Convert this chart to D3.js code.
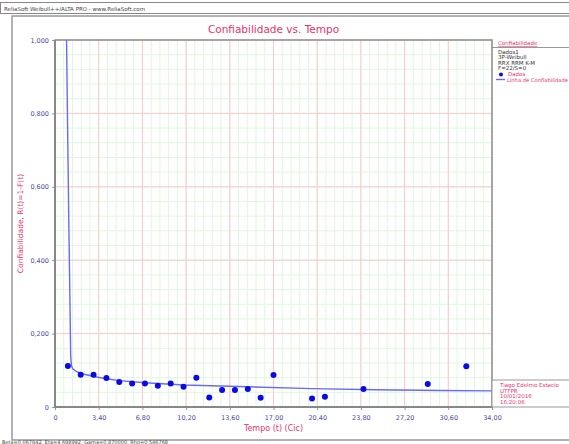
<!DOCTYPE html>
<html>
<head>
<meta charset="utf-8">
<script src="https://d3js.org/d3.v7.min.js"></script>
<style>
body { margin:0; background:#fff; }
text { font-family: "DejaVu Sans", Verdana, sans-serif; }
</style>
</head>
<body>
<div id="graph"></div>
<script>
// pontos (t, R)
var tempos = [1,2,3,4,5,6,7,8,9,10,11,12,13,14,15,16,17,20,21,24,29,32];
var confiab = [0.112,0.088,0.088,0.079,0.068,0.064,0.064,0.058,0.064,0.055,0.080,0.026,0.046,0.046,0.049,0.025,0.087,0.023,0.028,0.049,0.063,0.111];

// linha de confiabilidade (3P-Weibull)
var linhaT = [0.9,0.97,1.07,1.17,1.22,1.28,1.4,1.7,2.2,3,4,5,7,10,15,20,25,30,34];
var linhaR = [1.0,0.79,0.515,0.27,0.14,0.112,0.103,0.096,0.09,0.083,0.077,0.072,0.066,0.060,0.055,0.050,0.047,0.045,0.044];

var xTicks = [0,3.4,6.8,10.2,13.6,17,20.4,23.8,27.2,30.6,34];
var yTicks = [0,0.2,0.4,0.6,0.8,1.0];

var legendaLinhas = ["Dados1","3P-Weibull","RRX RRM  K-M","F=22/S=0"];
var infoLinhas = ["Tiago Edelmo Estacio","UTFPR","10/01/2016","16:20:06"];

var width=569, height=444;
var padding={left:55, right:77, top:40, bottom:37};
var vermelho="#e8336a", azulTxt="#4a4aa8";

var svg=d3.select("div#graph").append("svg")
	.attr("width",width).attr("height",height);

// moldura externa
svg.append("rect").attr("x",0.5).attr("y",2.5).attr("width",width).attr("height",11)
	.attr("fill","none").attr("stroke","#888");
svg.append("text").attr("x",4).attr("y",10.5).attr("font-size",5.5).attr("fill","#444")
	.text("ReliaSoft Weibull++/ALTA PRO - www.ReliaSoft.com");
svg.append("rect").attr("x",12).attr("y",16).attr("width",width).attr("height",424)
	.attr("fill","none").attr("stroke","#999").attr("stroke-width",1.5);
svg.append("text").attr("x",2).attr("y",444).attr("font-size",5).attr("fill","#444")
	.text("Beta=0,067842, Eta=4,698992, Gama=0,870000, Rho=0,546768");

var xScale=d3.scaleLinear().domain([0,34]).range([padding.left,width-padding.right]);
var yScale=d3.scaleLinear().domain([0,1]).range([height-padding.bottom,padding.top]);

// grade menor
var minorX=d3.range(0,34.001,0.68), minorY=d3.range(0,1.0001,0.04);
svg.append("g").selectAll("line").data(minorX).enter().append("line")
	.attr("x1",d=>xScale(d)).attr("x2",d=>xScale(d))
	.attr("y1",yScale(0)).attr("y2",yScale(1))
	.attr("stroke","#e0f6e0").attr("stroke-width",1);
svg.append("g").selectAll("line").data(minorY).enter().append("line")
	.attr("y1",d=>yScale(d)).attr("y2",d=>yScale(d))
	.attr("x1",xScale(0)).attr("x2",xScale(34))
	.attr("stroke","#e0f6e0").attr("stroke-width",1);
// grade maior
svg.append("g").selectAll("line").data(xTicks).enter().append("line")
	.attr("x1",d=>xScale(d)).attr("x2",d=>xScale(d))
	.attr("y1",yScale(0)).attr("y2",yScale(1))
	.attr("stroke","#f8caca").attr("stroke-width",1);
svg.append("g").selectAll("line").data(yTicks).enter().append("line")
	.attr("y1",d=>yScale(d)).attr("y2",d=>yScale(d))
	.attr("x1",xScale(0)).attr("x2",xScale(34))
	.attr("stroke","#f8caca").attr("stroke-width",1);

var xAxis=d3.axisBottom(xScale).tickValues(xTicks).tickSize(3)
	.tickFormat(d=> d===0?"0":d.toFixed(2).replace(".",","));
var yAxis=d3.axisLeft(yScale).tickValues(yTicks).tickSize(3)
	.tickFormat(d=> d===0?"0":d.toFixed(3).replace(".",","));

svg.append("g").attr("class","x axis")
	.attr("transform",`translate(0,${height-padding.bottom})`).call(xAxis);
svg.append("g").attr("class","y axis")
	.attr("transform",`translate(${padding.left},0)`).call(yAxis);
svg.selectAll(".axis path").remove();
svg.selectAll(".axis line").attr("stroke","#9090c0");
svg.selectAll(".axis text").attr("fill",azulTxt).attr("font-size",6.5)
	.style("font-family","DejaVu Sans, Verdana, sans-serif");
svg.selectAll(".x.axis text").attr("dy","1.1em");

// legenda (fundo)
var legend=svg.append("g").attr("transform",`translate(${xScale(34)},${yScale(1)})`);
legend.append("line").attr("x1",0).attr("x2",80).attr("y1",7.5).attr("y2",7.5)
	.attr("stroke","#999").attr("stroke-width",1);

// borda do grafico
svg.append("rect").attr("x",xScale(0)).attr("y",yScale(1))
	.attr("width",xScale(34)-xScale(0)).attr("height",yScale(0)-yScale(1))
	.attr("fill","none").attr("stroke","#909090").attr("stroke-width",1.5);
svg.append("line").attr("x1",xScale(0)).attr("x2",xScale(0))
	.attr("y1",yScale(1)).attr("y2",yScale(0)+1).attr("stroke","#888").attr("stroke-width",2);
svg.append("line").attr("x1",xScale(0)).attr("x2",xScale(34))
	.attr("y1",yScale(0)).attr("y2",yScale(0)).attr("stroke","#888").attr("stroke-width",2);

// linha de confiabilidade
var line=d3.line()
	.x(d=>xScale(d[0])).y(d=>yScale(d[1]));
svg.append("path").datum(d3.zip(linhaT,linhaR))
	.attr("fill","none").attr("stroke","#6a6af5").attr("stroke-width",1.4)
	.attr("stroke-linejoin","round")
	.attr("d",line);

// pontos
svg.append("g").selectAll("circle").data(d3.zip(tempos,confiab)).enter()
	.append("circle").attr("cx",d=>xScale(d[0])).attr("cy",d=>yScale(d[1]))
	.attr("r",3).attr("fill","#0a0ae6");

// titulos
svg.append("text").attr("x",(xScale(0)+xScale(34))/2).attr("y",33)
	.attr("text-anchor","middle").attr("font-size",10.5).attr("fill",vermelho)
	.text("Confiabilidade vs. Tempo");
svg.append("text").attr("x",(xScale(0)+xScale(34))/2).attr("y",431)
	.attr("text-anchor","middle").attr("font-size",8).attr("fill",vermelho)
	.text("Tempo (t) (Cic)");
svg.append("text").attr("transform","rotate(-90)")
	.attr("x",-(yScale(0)+yScale(1))/2).attr("y",23)
	.attr("text-anchor","middle").attr("font-size",7.5).attr("fill",vermelho)
	.text("Confiabilidade, R(t)=1-F(t)");

// legenda (textos)
legend.append("text").attr("x",6).attr("y",5).attr("font-size",5.5).attr("fill",vermelho)
	.attr("text-decoration","underline").text("Confiabilidade");
legend.selectAll("text.leg").data(legendaLinhas).enter().append("text")
	.attr("class","leg").attr("x",6).attr("y",(d,i)=>14+i*5.3)
	.attr("font-size",5.5).attr("fill","#333").text(d=>d);
legend.append("circle").attr("cx",9).attr("cy",34.5).attr("r",2).attr("fill","#0a0ae6");
legend.append("text").attr("x",16).attr("y",36).attr("font-size",5.5).attr("fill",vermelho).text("Dados");
legend.append("line").attr("x1",4).attr("x2",13).attr("y1",39.5).attr("y2",39.5)
	.attr("stroke","#6a6af5").attr("stroke-width",1.4);
legend.append("text").attr("x",15).attr("y",41.5).attr("font-size",5.2).attr("fill",vermelho)
	.attr("textLength",61).attr("lengthAdjust","spacingAndGlyphs")
	.text("Linha de Confiabilidade");

// caixa de informacao
var info=svg.append("g").attr("transform",`translate(${xScale(34)},380)`);
info.append("rect").attr("x",0).attr("y",0).attr("width",80).attr("height",27)
	.attr("fill","#fff").attr("stroke","#999").attr("stroke-width",1);
info.selectAll("text").data(infoLinhas).enter().append("text")
	.attr("x",8).attr("y",(d,i)=>7+i*5.6).attr("font-size",5.5).attr("fill",vermelho)
	.text(d=>d);
</script>
</body>
</html>
